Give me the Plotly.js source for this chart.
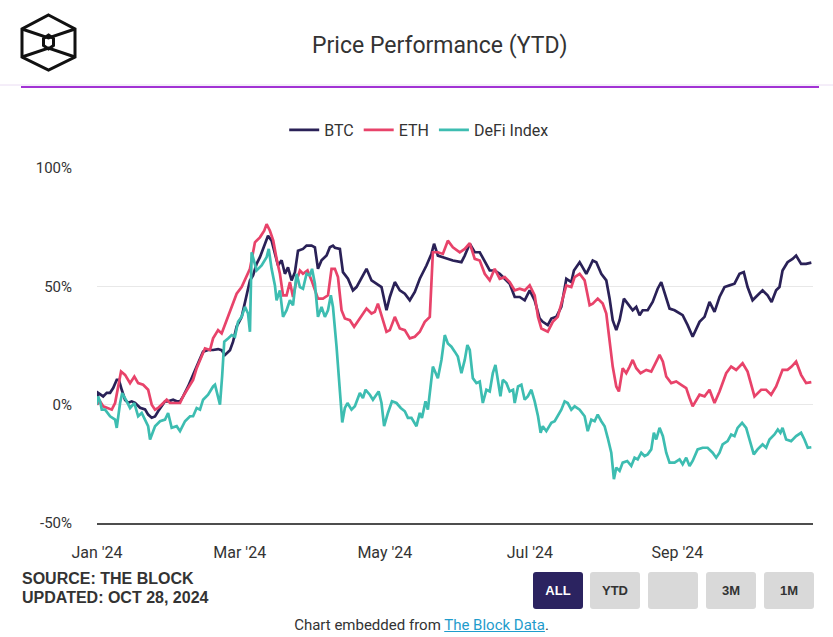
<!DOCTYPE html>
<html>
<head>
<meta charset="utf-8">
<script src="https://cdn.plot.ly/plotly-3.0.1.min.js"></script>
<style>
  html, body { margin:0; padding:0; background:#fff; }
  #wrap { position:relative; width:833px; height:637px; overflow:hidden; font-family: Roboto, "Liberation Sans", Arial, sans-serif; }
  #chart { position:absolute; left:0; top:0; width:833px; height:637px; }
  .ov { position:absolute; pointer-events:none; }
  .src { left:22px; font-family:"Liberation Sans", Arial, sans-serif; font-weight:bold; font-size:16px; color:#333; }
  .btn { position:absolute; top:572px; width:50px; height:37px; border-radius:3px; background:#d9d9d9; color:#333;
         font-family:"Liberation Sans", Arial, sans-serif; font-weight:bold; font-size:13px; line-height:37px; text-align:center; }
  #foot { position:absolute; top:616px; left:0; width:843px; text-align:center; font-size:15px; color:#333; font-family: Roboto, "Liberation Sans", Arial, sans-serif; }
  #foot a { color:#1f9ccc; text-decoration:underline; }
</style>
</head>
<body>
<div id="wrap">
  <div id="chart"></div>
  <svg class="ov" style="left:0;top:0" width="833" height="100">
    <g fill="none" stroke="#111" stroke-width="3" stroke-linejoin="miter">
      <polygon points="48.5,15 75,29 75,57 48.5,70 22,57 22,29"/>
      <polyline points="22,29 48.5,38 75,29"/>
      <polyline points="22,57 48.5,48 75,57"/>
      <polygon points="48.5,35 53.5,38.5 53.5,45.5 48.5,49 43.5,45.5 43.5,38.5"/>
    </g>
    <line x1="0" y1="85" x2="833" y2="85" stroke="#eadcf3" stroke-width="1"/>
    <line x1="21" y1="87" x2="819" y2="87" stroke="#a233d4" stroke-width="2"/>
  </svg>
  <div class="ov src" style="top:570px;">SOURCE: THE BLOCK</div>
  <div class="ov src" style="top:589px;">UPDATED: OCT 28, 2024</div>
  <div class="btn" style="left:533px;background:#2b2360;color:#fff;">ALL</div>
  <div class="btn" style="left:590px;">YTD</div>
  <div class="btn" style="left:648px;"></div>
  <div class="btn" style="left:706px;">3M</div>
  <div class="btn" style="left:764px;">1M</div>
  <div id="foot">Chart embedded from <a>The Block Data</a>.</div>
</div>
<script>
// Day offsets from 1 Jan 2024 and YTD % values
const btcDay = [0,0.5,2.6,4.1,5.5,6.8,8.3,9.2,10.4,11.8,13.1,14.6,16,18.1,20.2,21.5,23,24.4,25.7,27.2,28.6,29.9,32,33.5,34.9,36.2,38.3,40.4,42.5,44.6,46.7,48.8,50.9,52.4,53.8,55.9,57.2,58.7,60.8,62.9,64.3,65.6,67.1,68.5,70.6,71.9,73.4,74.8,76.1,77.6,79,80.3,81.8,83.2,84.5,86.6,88.1,90.2,91.6,92.9,94.4,96.5,97.9,99.2,100,102.1,103.4,105.5,107.6,109.1,111.2,113.3,115.4,117.5,119.6,121.7,123.1,125.2,127.3,129.4,131.5,133.6,135.7,138.5,140.6,141.7,143.3,145.4,147.5,149.6,153.2,154.6,156.7,158.8,160.9,163,165.1,167.2,169.3,171.4,173.5,175.6,177.7,179.8,181.9,184,186.1,187.4,189.5,191,193.1,195.2,197.3,199.4,200.5,202.9,205.7,207.1,208.4,209.9,212,214.1,215.5,216.8,218.3,219.7,221.5,223.1,225.2,226.7,228.1,229.4,231.5,233.6,235.7,237.2,238.6,240.7,242.8,244.9,246.2,248.3,250.4,253.3,255.4,257.5,259.6,261.7,263.8,265.9,268,270.1,271.9,273.5,275.6,277.7,279.8,281.9,283.6,285.5,286.9,288.2,290.3,292.4,293.9,296,298.1,300.3];
const btcVal = [0,5,3.5,5,5,7,10.5,10.5,6.3,2,0.8,1.4,0.8,-1.3,-2,-4.2,-5.5,-5,-2.8,-0.7,1.4,1.4,2.1,1.4,1.4,3.5,7.7,12.6,17.5,22.4,23.1,23.1,23.5,23,21,23,26.6,33,37,47,52.5,54.6,59.5,62.3,68,71.4,69.3,63.7,58.8,61,55.3,58,52.5,56,65,65.8,67.2,67.2,66.5,57.4,61,63,66.5,67.2,66.3,65.8,56,53.2,48.3,49.7,53.9,57.4,52.5,51.1,49.7,39.9,45.5,51.8,48.3,46.9,44.1,47.6,53.2,58.8,63.7,68,63,62.3,61.6,60.9,60.2,63,68,64.4,64.4,60.2,56.7,56.7,55.3,53.2,51.1,45.5,45.5,44.1,48.3,44.1,36.4,35,33.6,36.4,37.1,41.3,53.2,51.8,56.7,60.2,55.3,58.1,60.9,60.2,55.3,52.5,44.8,35.7,31.5,35.7,44.8,42.7,39.9,41.3,37.8,39.9,39.9,43.4,49,51.8,46.9,40.6,39.9,38.5,37.8,33.6,28.7,35,37.1,43.4,39.2,45.5,49.7,50.4,51.1,55.3,56,49.7,44.1,46.2,48.3,46.2,43.4,48.3,49.7,56.7,60.2,61.6,63,59.5,59.5,60];

const ethDay = [0,1.3,2.6,4.7,6.2,7.6,8.9,10.1,11.8,13.9,15.7,17.3,19.4,21.5,23,24.4,25.7,27.2,29.3,30.7,32.8,34.9,36.2,38.3,40.4,41.9,44,45.4,47.5,48.8,50.9,52.4,54.5,56.6,58.7,60.8,62.9,64.3,66.4,68.5,70.3,71.3,72.7,74.1,75.5,76.9,78.2,79.7,81.1,82.4,83.9,85.3,86.6,88.5,90.2,91.6,92.9,95,97.1,98.6,100,101.3,102.8,104.2,106.3,108.1,110.5,113.3,115.4,116.8,118.1,120.2,121.7,123.1,125.2,127.3,129.4,131.5,133.6,135.7,137.8,139.9,140.6,141.2,143.3,145.4,147.5,149.6,152.5,154.6,156.7,158.8,160.9,163,165.1,167.2,169.3,171.4,173.5,175.6,177.7,179.8,181.9,184,185.4,186.8,189.5,191.6,193.7,195.8,197.3,199.4,200.8,202.9,205,207.1,208.4,210.5,212.6,214.1,215.5,216.8,218.3,219.4,221,222.5,223.9,225.2,226.7,228.5,230.9,233,235.1,236.5,237.9,239.3,241.4,243.5,245.6,247.7,249.1,250.4,253.3,255.4,257.5,259.6,261.7,264.5,266.6,268.7,271.4,273.5,276.4,279.2,281.3,283.4,285.5,288.2,290.3,292,293.9,296,298.1,300.3];
const ethVal = [0,1.4,-0.7,-1.4,-2.1,0.7,7.7,14,12.6,9.1,11.9,9.1,8.4,6.3,0,-2.1,-1.4,0,2.1,0.7,0.7,0.7,3.5,7,10.5,15.4,20.3,23.8,23.1,28,31.5,30.1,35.7,41.3,46.9,49.7,53.9,57.4,68.6,70.7,73.5,76.3,73.5,69.3,61.6,55.3,46.2,46.2,51.8,45.5,52.5,56.7,55.3,56.7,52.5,48.3,44.8,44.8,46.2,57.4,57.4,53.9,39.9,36.4,35.7,32.9,36.4,40.6,38.5,39.2,42.7,35.7,30.8,31.5,37.1,32.2,31.5,28,28.7,30.8,35,37.1,52.5,64.4,64.4,63.7,69.3,66.5,64.4,65.8,68.2,61.6,60.9,55.3,52.5,57.4,53.2,53.9,51.8,48.3,49,48.3,50.4,46.2,37.1,32.2,30.8,35,37.1,44.8,50.4,49.7,53.9,55.3,52.5,42,42.7,44.8,42.7,38.5,27.3,16.1,7.7,5.6,15.4,13.3,16.1,18.9,15.4,13.3,14.7,14,18.2,21,18.2,11.9,9.1,9.8,8.4,7,2.8,-0.7,4.2,3.5,6.3,0.7,5.6,13.3,16.1,14.7,17.5,14,3.5,6.3,6.3,4.2,7.7,14.7,14.7,16.1,18.2,12.6,9.1,9.5];

const defiDay = [0,0.4,1.3,2,3.4,5.5,7.6,8.3,9.7,10.6,12.5,13.9,15.7,17.3,18.8,20.2,21.5,22.3,24.4,26.5,28.6,29.9,31.4,33.5,34.9,37,39.1,40.4,41.9,43.3,44.6,46.7,48.8,49.6,50.9,51.7,52.6,53.5,55.1,56.6,58,59.3,60.8,62.2,63.5,64.3,65,65.6,67.1,69.2,71.3,72.2,73.4,74.8,75.5,76.9,78.2,79.7,81.1,82.4,83.9,85.3,86.6,88.1,89.5,90.4,91.6,92.9,94.4,95.8,97.1,98.3,99.2,100.7,102.1,103.1,104.2,105.3,107,108.4,110.5,111.8,112.9,114.7,116,117.5,118.4,119.6,120.7,122.3,124,125.9,127.7,129.4,130.7,132.2,134.3,135.7,136.6,138.1,139.1,141.2,143.3,144.8,146.2,147.5,149,150.4,151.7,153.2,154.6,155.7,156.7,158,159.5,160.9,162.2,163.7,165.1,166.4,167.5,168.5,169.6,170.6,172.1,173.5,174.9,175.6,177,178.4,179.8,181.1,182.6,184,185.4,186.5,187.4,188.9,191,192.4,193.7,195.2,196.6,197.9,199.4,200.8,202.9,205,206.3,207.8,209.2,210.5,212,213.4,214.7,216.2,217.3,218.3,219.7,221,222.9,224.6,226,227.3,228.8,230.2,231.5,233,234.1,235.1,236.5,237.9,239.3,240.7,242.8,244.9,246.2,247.7,249.1,250.4,252.5,254.6,256.7,258.8,260.3,261.7,263,265.1,266.6,268,269.3,271.2,272.9,274.3,276.1,277.7,279.8,281.3,282.7,284.8,286.2,287.3,288.2,289.7,291.8,293.9,296,297.4,298.8,300.3];
const defiVal = [0,3.5,1.4,-2.1,-2.1,-4.9,-6.3,-9.8,0.7,4.9,1.4,-1.4,0.7,-4.9,-3.5,-6.3,-9.1,-14.7,-9.1,-7,-6.3,-3.5,-9.8,-9.1,-11.2,-7,-4.9,-4.9,-1.4,-2.1,2.1,4.2,7.7,8.4,3.5,0,11.9,26.6,28,29.4,28.7,35,37.1,41.3,38.5,30.8,64.4,62.3,56.7,58.8,62.3,65.8,57.4,50.4,44.1,48.3,37.1,39.9,44.1,42,55.3,49.7,49,55.3,54.6,57.4,51.1,37.1,41.3,37.1,39.9,46.2,41.3,24.5,3.5,-7.5,-1.4,0.7,-2.1,-0.7,4.9,2.8,6.3,4.2,2.1,4.2,5.6,0.7,-9.1,-3.5,1.4,0.7,-1.4,-2.8,-5.6,-5.6,-9.1,-3.5,-5.6,1.4,-2.1,16.1,11.2,18.9,29.4,25.9,24.5,22.4,20.3,13.3,18.9,25.2,23.1,11.2,9.1,9.8,0.7,6.3,5.6,13.3,16.8,10.5,3.5,10.5,9.1,5.6,6.3,0.7,7.7,8.4,2.1,3.5,6.3,1.4,-4.9,-11.9,-9.1,-11.2,-7.7,-7,-4.9,-2.1,1.4,0.7,-2.1,-0.7,-2.1,-4.9,-11.2,-6.3,-7,-4.2,-7,-9.1,-14,-20.3,-31.5,-26.6,-28,-24.5,-23.8,-25.9,-22.4,-23.1,-20.3,-21.7,-21,-18.9,-11.9,-14.7,-9.8,-13.3,-20.3,-24.5,-24.5,-23.1,-25.2,-22.4,-25.9,-23.8,-18.9,-18.2,-18.2,-20.3,-22.4,-20.3,-16.8,-15.4,-12.6,-13.3,-9.8,-7.7,-9.8,-14.7,-21,-18.9,-16.8,-18.2,-14.7,-12.6,-10.5,-11.9,-9.8,-14.7,-15.4,-13.3,-11.9,-14.7,-18.2,-18];

const seriesNames = ['BTC', 'ETH', 'DeFi Index'];
const seriesColors = ['#2a2157', '#e8436a', '#3dbdb1'];
const yTickVals = [-50, 0, 50, 100];
const yTickText = ['-50%', '0%', '50%', '100%'];
const xTickVals = ['2024-01-01', '2024-03-01', '2024-05-01', '2024-07-01', '2024-09-01'];
const xTickText = ["Jan '24", "Mar '24", "May '24", "Jul '24", "Sep '24"];

const START = Date.UTC(2024, 0, 1);
function toDate(d) { return new Date(START + d * 86400000).toISOString().slice(0, 19).replace('T', ' '); }

const days = [btcDay, ethDay, defiDay];
const vals = [btcVal, ethVal, defiVal];
const traces = seriesNames.map((n, i) => ({
  type: 'scatter', mode: 'lines', name: n,
  x: days[i].map(toDate), y: vals[i],
  line: { color: seriesColors[i], width: 2.7 },
  hoverinfo: 'skip'
}));

const layout = {
  width: 833, height: 637,
  margin: { l: 97, r: 20, t: 168, b: 114, pad: 0 },
  paper_bgcolor: '#fff', plot_bgcolor: '#fff',
  font: { family: 'Roboto, "Liberation Sans", Arial, sans-serif', size: 15, color: '#333' },
  title: { text: 'Price Performance (YTD)', x: 0.528, xanchor: 'center', xref: 'container',
           y: 1 - 45/637, yanchor: 'middle', yref: 'container',
           font: { family: 'Roboto, "Liberation Sans", Arial, sans-serif', size: 23, color: '#333' } },
  showlegend: true,
  legend: { orientation: 'h', x: 0.45, xanchor: 'center', y: 1.107, yanchor: 'middle',
            font: { size: 16, color: '#333' }, bgcolor: 'rgba(0,0,0,0)', itemwidth: 30, traceorder: 'normal' },
  xaxis: { type: 'date', range: ['2024-01-01', '2024-10-28'], tickmode: 'array',
           tickvals: xTickVals, ticktext: xTickText, showgrid: false, zeroline: false,
           showline: true, linecolor: '#4d4d4d', linewidth: 2,
           ticks: 'outside', ticklen: 14, tickcolor: 'rgba(0,0,0,0)',
           tickfont: { size: 16, color: '#333' }, fixedrange: true },
  yaxis: { range: [-50, 100], tickmode: 'array', tickvals: yTickVals, ticktext: yTickText,
           showgrid: true, gridcolor: '#e8e8e8', gridwidth: 1, zeroline: false, showline: false,
           ticks: 'outside', ticklen: 21, tickcolor: 'rgba(0,0,0,0)',
           tickfont: { size: 15, color: '#333' }, fixedrange: true }
};

Plotly.newPlot('chart', traces, layout, { displayModeBar: false, staticPlot: true });
</script>
</body>
</html>
